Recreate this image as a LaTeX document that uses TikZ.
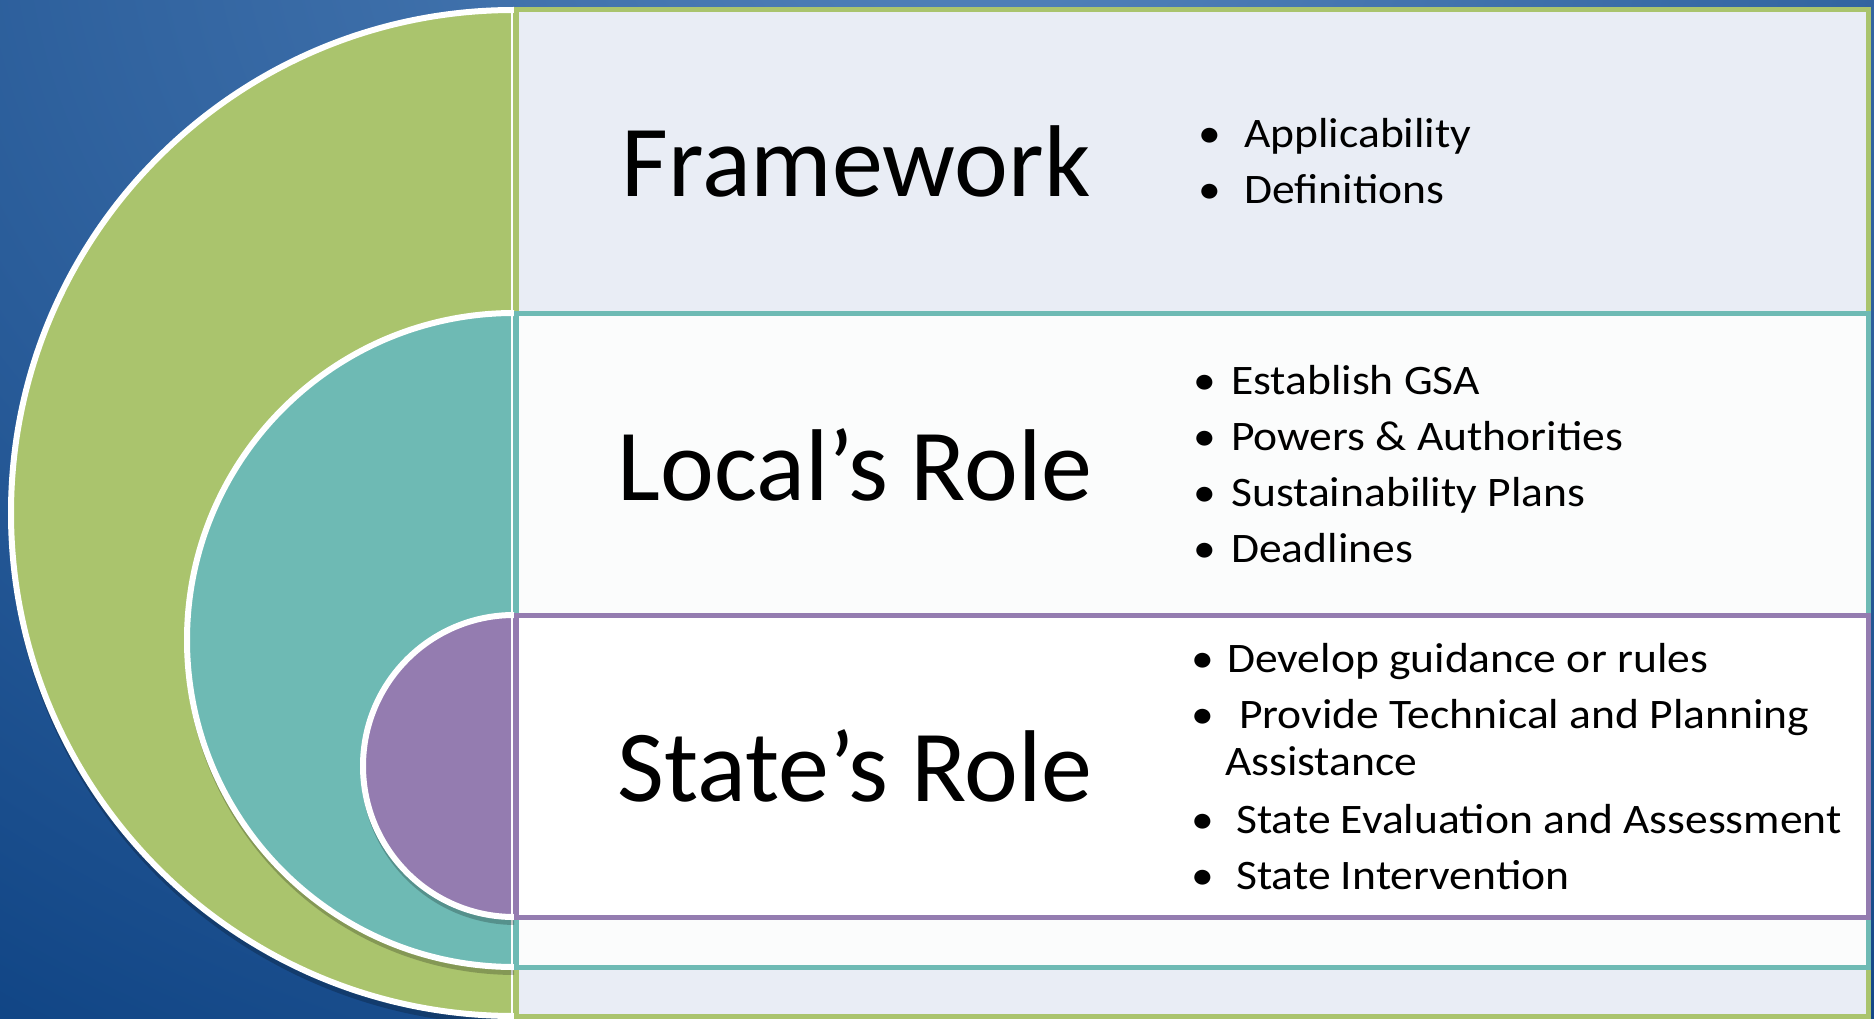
\documentclass[tikz,border=0pt]{standalone}
\usepackage{fontspec}
\setmainfont{Carlito}
\newfontfamily\bulfont{Carlito}[FakeStretch=1.085]
\definecolor{bgdark}{HTML}{0A3F80}
\definecolor{bglight}{HTML}{5383BB}
\definecolor{cgreen}{HTML}{AAC46D}
\definecolor{cteal}{HTML}{6EBAB4}
\definecolor{cpurple}{HTML}{947CB0}
\definecolor{boxgray}{HTML}{E9EDF5}
\definecolor{boxwhite}{HTML}{FBFCFC}
\tikzset{
  halfshape/.style={draw=white, line width=6},
  shadowshape/.style={fill=black, opacity=0.22},
  boxframe/.style={line width=5},
  titletext/.style={font=\fontsize{102}{110}\selectfont, anchor=base, inner sep=0pt, text=black},
  bultext/.style={font=\bulfont\fontsize{42}{50}\selectfont, anchor=base west, inner sep=0pt, text=black},
  buldot/.style={font=\bulfont\fontsize{42}{50}\selectfont, anchor=base, inner sep=0pt, text=black},
}
\begin{document}
\begin{tikzpicture}[x=1pt,y=-1pt]
\useasboundingbox (0,0) rectangle (1874,1019);
% background
\begin{scope}
  \clip (0,0) rectangle (1874,1019);
  \fill[bgdark] (0,0) rectangle (1874,1019);
  \shade[inner color=bglight, outer color=bgdark] (1000,-100) ellipse[x radius=1950, y radius=1500];
\end{scope}
% green
\begin{scope}
  \clip (-20,-20) rectangle (514,1040);
  \fill[shadowshape] (516,518) circle[radius=507];
  \filldraw[halfshape, fill=cgreen] (514,513) circle[radius=503];
\end{scope}
\draw[white, line width=2] (512,10) -- (512,1016);
\filldraw[boxframe, draw=cgreen, fill=boxgray] (516,10) rectangle (1868,1016);
% teal
\begin{scope}
  \clip (-20,-20) rectangle (514,1040);
  \fill[shadowshape] (516,644) circle[radius=331];
  \filldraw[halfshape, fill=cteal] (514,640) circle[radius=327];
\end{scope}
\draw[white, line width=2] (512,313) -- (512,967);
\filldraw[boxframe, draw=cteal, fill=boxwhite] (516,313) rectangle (1868,967);
% purple
\begin{scope}
  \clip (-20,-20) rectangle (514,1040);
  \fill[shadowshape] (516,770) circle[radius=155];
  \filldraw[halfshape, fill=cpurple] (514,766) circle[radius=151];
\end{scope}
\draw[white, line width=2] (512,615) -- (512,917);
\filldraw[boxframe, draw=cpurple, fill=white] (516,615) rectangle (1868,917);
% titles
\node[titletext] (tframe) at (856,197) {Framework};
\node[titletext] (tlocal) at (855,500) {Local’s Role};
\node[titletext] (tstate) at (855,801) {State’s Role};
% framework bullets
\node[buldot] (fb1) at (1210,148) {•};
\node[bultext] (ft1) at (1244,148) {Applicability};
\node[buldot] (fb2) at (1210,204) {•};
\node[bultext] (ft2) at (1244,204) {Definitions};
% local bullets
\node[buldot] (lb1) at (1205,394) {•};
\node[bultext] (lt1) at (1231,394) {Establish GSA};
\node[buldot] (lb2) at (1205,450) {•};
\node[bultext] (lt2) at (1231,450) {Powers \& Authorities};
\node[buldot] (lb3) at (1205,506) {•};
\node[bultext] (lt3) at (1231,506) {Sustainability Plans};
\node[buldot] (lb4) at (1205,562) {•};
\node[bultext] (lt4) at (1231,562) {Deadlines};
% state bullets
\node[buldot] (sb1) at (1203,672) {•};
\node[bultext] (st1) at (1227,672) {Develop guidance or rules};
\node[buldot] (sb2) at (1203,728) {•};
\node[bultext] (st2) at (1239,728) {Provide Technical and Planning};
\node[bultext] (st2b) at (1225,775) {Assistance};
\node[buldot] (sb3) at (1203,833) {•};
\node[bultext] (st3) at (1236,833) {State Evaluation and Assessment};
\node[buldot] (sb4) at (1203,889) {•};
\node[bultext] (st4) at (1236,889) {State Intervention};
\end{tikzpicture}
\end{document}
